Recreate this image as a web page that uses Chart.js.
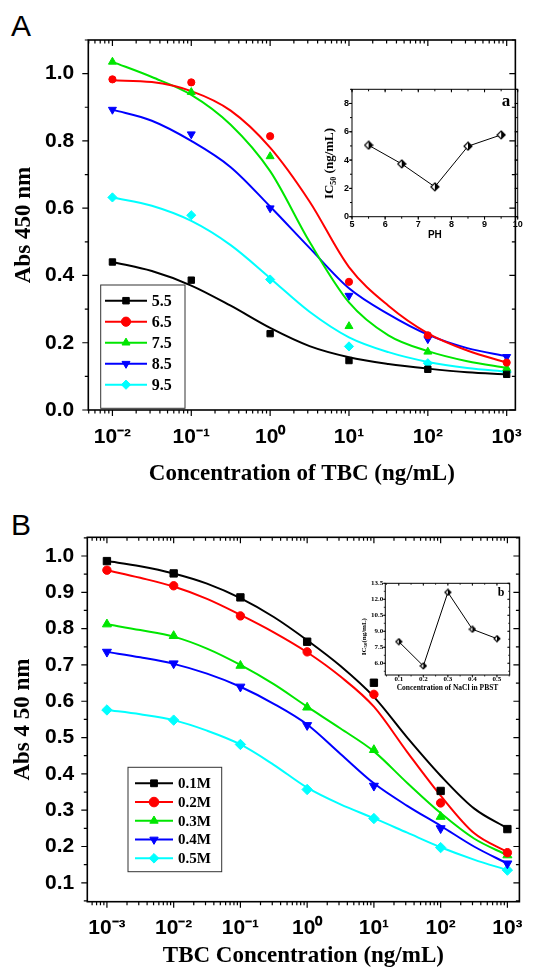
<!DOCTYPE html>
<html lang="en">
<head>
<meta charset="UTF-8">
<title>TBC competitive ELISA - pH and NaCl</title>
<script src="https://cdn.jsdelivr.net/npm/chart.js"></script>
<style>
    body { margin: 0; background: #fff; }
    #wrap { position: relative; width: 537px; height: 970px; overflow: hidden; }
    #wrap canvas { position: absolute; }
    .panel { position: absolute; font: 30px "Liberation Sans", Arial, sans-serif; line-height: 30px; color: #000; }
</style>
</head>
<body>
<div id="wrap">
    <div class="panel" style="left:11px; top:11px">A</div>
    <div class="panel" style="left:11px; top:510px">B</div>
    <canvas id="chartA" width="537" height="490" style="left:0; top:0"></canvas>
    <canvas id="insetA" width="220" height="170" style="left:310px; top:80px"></canvas>
    <canvas id="chartB" width="537" height="475" style="left:0; top:495px"></canvas>
    <canvas id="insetB" width="180" height="125" style="left:340px; top:575px"></canvas>
</div>

<script>
// ---------- panel A : pH ----------
const concA = [0.01, 0.1, 1, 10, 100, 1000];
const ph55 = [0.440, 0.386, 0.227, 0.147, 0.121, 0.106];
const ph65 = [0.983, 0.974, 0.814, 0.381, 0.222, 0.141];
const ph75 = [1.035, 0.945, 0.754, 0.249, 0.173, 0.124];
const ph85 = [0.893, 0.820, 0.600, 0.340, 0.211, 0.158];
const ph95 = [0.632, 0.579, 0.388, 0.189, 0.139, 0.113];

// fitted curves, every half decade
const fitConcA = [0.01, 0.0316, 0.1, 0.316, 1, 3.16, 10, 31.6, 100, 316, 1000];
const fit55 = [0.440, 0.413, 0.370, 0.310, 0.244, 0.190, 0.157, 0.137, 0.123, 0.112, 0.106];
const fit65 = [0.980, 0.975, 0.948, 0.890, 0.780, 0.620, 0.425, 0.310, 0.228, 0.177, 0.141];
const fit75 = [1.035, 0.990, 0.937, 0.848, 0.710, 0.500, 0.320, 0.222, 0.175, 0.145, 0.125];
const fit85 = [0.893, 0.860, 0.800, 0.722, 0.605, 0.482, 0.362, 0.285, 0.224, 0.184, 0.160];
const fit95 = [0.632, 0.607, 0.562, 0.490, 0.392, 0.292, 0.216, 0.172, 0.143, 0.125, 0.114];

const labelsA = ['5.5', '6.5', '7.5', '8.5', '9.5'];

// inset a
const phValues = [5.5, 6.5, 7.5, 8.5, 9.5];
const ic50ByPh = [5.05, 3.73, 2.11, 4.98, 5.78];

// ---------- panel B : NaCl ----------
const concB = [0.001, 0.01, 0.1, 1, 10, 100, 1000];
const m01 = [0.986, 0.952, 0.886, 0.764, 0.651, 0.353, 0.248];
const m02 = [0.961, 0.918, 0.835, 0.736, 0.619, 0.320, 0.183];
const m03 = [0.812, 0.780, 0.698, 0.583, 0.466, 0.282, 0.176];
const m04 = [0.736, 0.704, 0.640, 0.534, 0.367, 0.250, 0.153];
const m05 = [0.576, 0.548, 0.481, 0.357, 0.277, 0.197, 0.135];

const fitConcB = [0.001, 0.00316, 0.01, 0.0316, 0.1, 0.316, 1, 3.16, 10, 31.6, 100, 316, 1000];
const fit01 = [0.986, 0.972, 0.952, 0.924, 0.884, 0.832, 0.768, 0.697, 0.612, 0.500, 0.395, 0.305, 0.250];
const fit02 = [0.961, 0.940, 0.916, 0.882, 0.838, 0.790, 0.735, 0.668, 0.585, 0.460, 0.340, 0.237, 0.185];
const fit03 = [0.812, 0.796, 0.778, 0.745, 0.700, 0.647, 0.585, 0.525, 0.462, 0.375, 0.292, 0.222, 0.176];
const fit04 = [0.736, 0.721, 0.703, 0.676, 0.640, 0.593, 0.536, 0.455, 0.374, 0.312, 0.257, 0.200, 0.153];
const fit05 = [0.576, 0.564, 0.548, 0.519, 0.481, 0.425, 0.362, 0.316, 0.278, 0.238, 0.198, 0.164, 0.135];

const labelsB = ['0.1M', '0.2M', '0.3M', '0.4M', '0.5M'];

// inset b
const naclValues = [0.1, 0.2, 0.3, 0.4, 0.5];
const ic50ByNacl = [8.03, 5.75, 12.65, 9.19, 8.31];

// tick labels
const xTicksA = [0.01, 0.1, 1, 10, 100, 1000];
const yTicksA = [0, 0.2, 0.4, 0.6, 0.8, 1.0];
const xTicksB = [0.001, 0.01, 0.1, 1, 10, 100, 1000];
const yTicksB = [0.1, 0.2, 0.3, 0.4, 0.5, 0.6, 0.7, 0.8, 0.9, 1.0];
const xTicksInA = [5, 6, 7, 8, 9, 10];
const yTicksInA = [0, 2, 4, 6, 8];
const xTicksInB = [0.1, 0.2, 0.3, 0.4, 0.5];
const yTicksInB = [6.0, 7.5, 9.0, 10.5, 12.0, 13.5];

// ---------- styling ----------
const colors = ['#000000', '#ff0000', '#00e600', '#0000ff', '#00ffff'];
const markers = [
    {style: 'rect', rot: 0},
    {style: 'circle', rot: 0},
    {style: 'triangle', rot: 0},
    {style: 'triangle', rot: 180},
    {style: 'rectRot', rot: 0}
];
const SANS = '"Liberation Sans", Arial, sans-serif';
const SERIF = '"Liberation Serif", "Times New Roman", serif';

function pairs(xs, ys) {
    return xs.map((x, i) => ({x: x, y: ys[i]}));
}

const sup = {'-': '\u207B', '0': '\u2070', '1': '\u00B9', '2': '\u00B2', '3': '\u00B3'};
function powLabel(v) {
    const e = Math.round(Math.log10(v));
    return '10' + String(e).split('').map(c => sup[c]).join('');
}

function logMinors(lo, hi) {
    const out = [];
    for (let e = Math.floor(Math.log10(lo)); e <= Math.ceil(Math.log10(hi)); e++) {
        for (let k = 1; k < 10; k++) {
            const v = k * Math.pow(10, e);
            if (v >= lo && v <= hi) out.push(v);
        }
    }
    return out;
}
function linMinors(lo, hi, step) {
    const out = [];
    for (let v = Math.ceil(lo / step) * step; v <= hi + 1e-9; v += step) out.push(v);
    return out;
}

// half filled diamond used by the insets
function halfDiamond(r) {
    const c = document.createElement('canvas');
    const s = Math.ceil(2 * r + 2);
    c.width = c.height = s;
    const g = c.getContext('2d');
    const m = s / 2;
    g.beginPath();
    g.moveTo(m, 1); g.lineTo(s - 1, m); g.lineTo(m, s - 1); g.lineTo(1, m);
    g.closePath();
    g.fillStyle = '#fff';
    g.fill();
    g.save(); g.clip();
    g.fillStyle = '#000';
    g.fillRect(m, 0, m, s);
    g.restore();
    g.lineWidth = 1.2;
    g.strokeStyle = '#000';
    g.stroke();
    return c;
}

// frame + tick marks on all four sides
const framePlugin = {
    id: 'frame',
    afterDraw(chart, args, o) {
        const {ctx, chartArea: a} = chart;
        const xs = chart.scales.x, ys = chart.scales.y;
        ctx.save();
        ctx.strokeStyle = '#000';
        ctx.lineWidth = o.tickWidth;
        ctx.beginPath();
        const mark = (len, vals, scale, horiz) => vals.forEach(v => {
            const p = scale.getPixelForValue(v);
            if (horiz) {
                ctx.moveTo(p, a.bottom); ctx.lineTo(p, a.bottom + len);
                ctx.moveTo(p, a.top); ctx.lineTo(p, a.top + len);
            } else {
                ctx.moveTo(a.left, p); ctx.lineTo(a.left - len, p);
                ctx.moveTo(a.right, p); ctx.lineTo(a.right - len, p);
            }
        });
        mark(o.minor, o.xMinor, xs, true);
        mark(o.major, xs.ticks.map(t => t.value), xs, true);
        mark(o.minor, o.yMinor, ys, false);
        mark(o.major, ys.ticks.map(t => t.value), ys, false);
        ctx.stroke();
        ctx.lineWidth = o.lineWidth;
        ctx.strokeRect(a.left, a.top, a.right - a.left, a.bottom - a.top);
        ctx.restore();
    }
};

function drawMarker(ctx, m, x, y, r, color) {
    ctx.fillStyle = color;
    ctx.strokeStyle = color;
    ctx.lineWidth = 1;
    Chart.helpers.drawPoint(ctx, {pointStyle: m.style, rotation: m.rot, radius: r, borderWidth: 1}, x, y);
}

// boxed legend inside the plot
const boxLegend = {
    id: 'boxLegend',
    afterDatasetsDraw(chart, args, o) {
        const ctx = chart.ctx;
        ctx.save();
        ctx.fillStyle = '#fff';
        ctx.fillRect(o.left, o.top, o.width, o.height);
        ctx.strokeStyle = '#333';
        ctx.lineWidth = 1;
        ctx.strokeRect(o.left, o.top, o.width, o.height);
        ctx.font = o.font;
        ctx.textBaseline = 'middle';
        o.labels.forEach((txt, i) => {
            const y = o.firstRow + i * o.rowGap;
            ctx.strokeStyle = colors[i];
            ctx.lineWidth = 2;
            ctx.beginPath();
            ctx.moveTo(o.lineFrom, y);
            ctx.lineTo(o.lineTo, y);
            ctx.stroke();
            drawMarker(ctx, markers[i], (o.lineFrom + o.lineTo) / 2, y, o.marker, colors[i]);
            ctx.fillStyle = '#000';
            ctx.fillText(txt, o.textX, y + 1);
        });
        ctx.restore();
    }
};

// free text: rotated axis titles with subscripts, panel letters of insets
const notesPlugin = {
    id: 'notes',
    afterDraw(chart, args, o) {
        const ctx = chart.ctx;
        (o.items || []).forEach(it => {
            ctx.save();
            ctx.translate(it.x, it.y);
            ctx.rotate(it.rot || 0);
            ctx.fillStyle = '#000';
            ctx.textBaseline = 'alphabetic';
            let w = 0;
            it.parts.forEach(p => { ctx.font = p.font; w += ctx.measureText(p.t).width; });
            let x = -w / 2;
            it.parts.forEach(p => {
                ctx.font = p.font;
                ctx.fillText(p.t, x, it.base + (p.dy || 0));
                x += ctx.measureText(p.t).width;
            });
            ctx.restore();
        });
    }
};

function mainDatasets(conc, series, fitConc, fits, radii) {
    const sets = [];
    series.forEach((s, i) => sets.push({
        data: pairs(conc, s),
        pointStyle: markers[i].style,
        rotation: markers[i].rot,
        pointRadius: radii[i],
        backgroundColor: colors[i],
        borderColor: colors[i],
        borderWidth: 1,
        showLine: false,
        order: 0
    }));
    fits.forEach((f, i) => sets.push({
        data: pairs(fitConc, f),
        borderColor: colors[i],
        borderWidth: 2,
        pointRadius: 0,
        showLine: true,
        cubicInterpolationMode: 'monotone',
        fill: false,
        order: 1
    }));
    return sets;
}

function mainOptions(c) {
    return {
        responsive: false,
        animation: false,
        events: [],
        layout: {padding: c.pad},
        plugins: {
            legend: {display: false},
            tooltip: {enabled: false},
            boxLegend: c.legend,
            frame: c.frame
        },
        scales: {
            x: {
                type: 'logarithmic',
                min: c.xMin, max: c.xMax,
                afterBuildTicks: s => { s.ticks = c.xTicks.map(v => ({value: v})); },
                afterFit: s => { s.height = c.xh; },
                grid: {display: false, drawTicks: false},
                border: {display: false},
                ticks: {
                    autoSkip: false, maxRotation: 0, padding: c.xPad, color: '#000',
                    font: {family: SANS, size: 21, weight: 'bold'},
                    callback: v => powLabel(v)
                },
                title: {
                    display: true, text: c.xTitle, color: '#000',
                    font: {family: SERIF, size: 23, weight: 'bold'},
                    padding: {top: 0, bottom: c.xTitlePad}
                }
            },
            y: {
                min: c.yMin, max: c.yMax,
                afterBuildTicks: s => { s.ticks = c.yTicks.map(v => ({value: v})); },
                afterFit: s => { s.width = c.yw; },
                grid: {display: false, drawTicks: false},
                border: {display: false},
                ticks: {
                    padding: c.yPad, color: '#000',
                    font: {family: SANS, size: 21, weight: 'bold'},
                    callback: v => Number(v).toFixed(1)
                },
                title: {
                    display: true, text: c.yTitle, color: '#000',
                    font: {family: SERIF, size: 23, weight: 'bold'},
                    padding: {top: c.yTitlePad, bottom: 0}
                }
            }
        }
    };
}

function insetOptions(c) {
    return {
        responsive: false,
        animation: false,
        events: [],
        layout: {padding: c.pad},
        plugins: {
            legend: {display: false},
            tooltip: {enabled: false},
            frame: c.frame,
            notes: {items: c.notes}
        },
        scales: {
            x: {
                type: 'linear',
                min: c.xMin, max: c.xMax,
                afterBuildTicks: s => { s.ticks = c.xTicks.map(v => ({value: v})); },
                afterFit: s => { s.height = c.xh; },
                grid: {display: false, drawTicks: false},
                border: {display: false},
                ticks: {
                    autoSkip: false, maxRotation: 0, padding: c.xPad, color: '#000',
                    font: c.tickFont,
                    callback: c.xFmt
                },
                title: {
                    display: true, text: c.xTitle, color: '#000',
                    font: c.titleFont,
                    padding: {top: 0, bottom: c.xTitlePad}
                }
            },
            y: {
                min: c.yMin, max: c.yMax,
                afterBuildTicks: s => { s.ticks = c.yTicks.map(v => ({value: v})); },
                afterFit: s => { s.width = c.yw; },
                grid: {display: false, drawTicks: false},
                border: {display: false},
                ticks: {padding: c.yPad, color: '#000', font: c.tickFont, callback: c.yFmt}
            }
        }
    };
}

// ---------- chart A ----------
const xMinA = Math.pow(10, -2.306), xMaxA = Math.pow(10, 3.11);
new Chart(document.getElementById('chartA'), {
    type: 'scatter',
    data: {datasets: mainDatasets(concA, [ph55, ph65, ph75, ph85, ph95], fitConcA,
        [fit55, fit65, fit75, fit85, fit95], [4.5, 3.6, 4.6, 4.6, 4.6])},
    options: mainOptions({
        pad: {left: 0, top: 40, right: 6.7, bottom: 0},
        xMin: xMinA, xMax: xMaxA, xTicks: xTicksA, xh: 80, xPad: 15,
        yMin: 0, yMax: 1.1, yTicks: yTicksA, yw: 88.3, yPad: 14,
        xTitle: 'Concentration of TBC (ng/mL)', xTitlePad: 2,
        yTitle: 'Abs 450 nm', yTitlePad: 10,
        frame: {lineWidth: 1.6, tickWidth: 1.2, major: 6, minor: 3.5,
            xMinor: logMinors(xMinA, xMaxA), yMinor: linMinors(0, 1.1, 0.1)},
        legend: {left: 100.7, top: 285, width: 84.3, height: 123.3, firstRow: 300.7, rowGap: 21,
            lineFrom: 105, lineTo: 147, textX: 151.7, marker: 4.6,
            font: 'bold 16px ' + SERIF, labels: labelsA}
    }),
    plugins: [framePlugin, boxLegend]
});

// ---------- inset a ----------
new Chart(document.getElementById('insetA'), {
    type: 'scatter',
    data: {datasets: [{
        data: pairs(phValues, ic50ByPh),
        showLine: true,
        borderColor: '#000',
        borderWidth: 1,
        pointStyle: halfDiamond(3.6),
        pointRadius: 4
    }]},
    options: insetOptions({
        pad: {left: 0, top: 9.3, right: 12.3, bottom: 0},
        xMin: 5, xMax: 10, xTicks: xTicksInA, xh: 33.3, xPad: 2.5,
        yMin: 0, yMax: 9, yTicks: yTicksInA, yw: 42, yPad: 3,
        tickFont: {family: SANS, size: 9, weight: 'bold'},
        titleFont: {family: SANS, size: 10, weight: 'bold'},
        xFmt: v => String(v), yFmt: v => String(v),
        xTitle: 'PH', xTitlePad: 8.3,
        frame: {lineWidth: 1, tickWidth: 1, major: 3, minor: 2,
            xMinor: linMinors(5, 10, 0.5), yMinor: linMinors(0, 9, 1)},
        notes: [
            {x: 18, y: 83.5, rot: -Math.PI / 2, base: 4.5, parts: [
                {t: 'IC', font: 'bold 13px ' + SERIF},
                {t: '50', font: 'bold 8px ' + SERIF, dy: 3},
                {t: ' (ng/mL)', font: 'bold 13px ' + SERIF}
            ]},
            {x: 196, y: 21, rot: 0, base: 5, parts: [{t: 'a', font: 'bold 17px ' + SERIF}]}
        ]
    }),
    plugins: [framePlugin, notesPlugin]
});

// ---------- chart B ----------
const xMinB = Math.pow(10, -3.294), xMaxB = Math.pow(10, 3.18);
new Chart(document.getElementById('chartB'), {
    type: 'scatter',
    data: {datasets: mainDatasets(concB, [m01, m02, m03, m04, m05], fitConcB,
        [fit01, fit02, fit03, fit04, fit05], [5.2, 4.2, 5.2, 5.2, 5.2])},
    options: mainOptions({
        pad: {left: 0, top: 42.3, right: 15.7, bottom: 0},
        xMin: xMinB, xMax: xMaxB, xTicks: xTicksB, xh: 68.3, xPad: 14,
        yMin: 0.048, yMax: 1.0515, yTicks: yTicksB, yw: 87.3, yPad: 13,
        xTitle: 'TBC Concentration (ng/mL)', xTitlePad: 0,
        yTitle: 'Abs 4 50 nm', yTitlePad: 9,
        frame: {lineWidth: 1.6, tickWidth: 1.2, major: 6, minor: 3.5,
            xMinor: logMinors(xMinB, xMaxB), yMinor: linMinors(0.05, 1.05, 0.05)},
        legend: {left: 128, top: 272.3, width: 93.7, height: 104.4, firstRow: 288.3, rowGap: 18.75,
            lineFrom: 135, lineTo: 173, textX: 178, marker: 4.8,
            font: 'bold 15px ' + SERIF, labels: labelsB}
    }),
    plugins: [framePlugin, boxLegend]
});

// ---------- inset b ----------
new Chart(document.getElementById('insetB'), {
    type: 'scatter',
    data: {datasets: [{
        data: pairs(naclValues, ic50ByNacl),
        showLine: true,
        borderColor: '#000',
        borderWidth: 1,
        pointStyle: halfDiamond(2.8),
        pointRadius: 3
    }]},
    options: insetOptions({
        pad: {left: 0, top: 8.3, right: 10.3, bottom: 0},
        xMin: 0.045, xMax: 0.552, xTicks: xTicksInB, xh: 25, xPad: 0,
        yMin: 4.9, yMax: 13.5, yTicks: yTicksInB, yw: 45.3, yPad: 2,
        tickFont: {family: SERIF, size: 7, weight: 'bold'},
        titleFont: {family: SERIF, size: 7.5, weight: 'bold'},
        xFmt: v => Number(v).toFixed(1), yFmt: v => Number(v).toFixed(1),
        xTitle: 'Concentration of NaCl in PBST', xTitlePad: 7.5,
        frame: {lineWidth: 1, tickWidth: 0.8, major: 2.5, minor: 1.5,
            xMinor: linMinors(0.05, 0.55, 0.05), yMinor: linMinors(5.25, 13.5, 0.75)},
        notes: [
            {x: 23, y: 61.7, rot: -Math.PI / 2, base: 2.5, parts: [
                {t: 'IC', font: 'bold 7px ' + SERIF},
                {t: '50', font: 'bold 5px ' + SERIF, dy: 1.5},
                {t: '(ng/mL)', font: 'bold 7px ' + SERIF}
            ]},
            {x: 161, y: 16.7, rot: 0, base: 4, parts: [{t: 'b', font: 'bold 12px ' + SERIF}]}
        ]
    }),
    plugins: [framePlugin, notesPlugin]
});
</script>
</body>
</html>
